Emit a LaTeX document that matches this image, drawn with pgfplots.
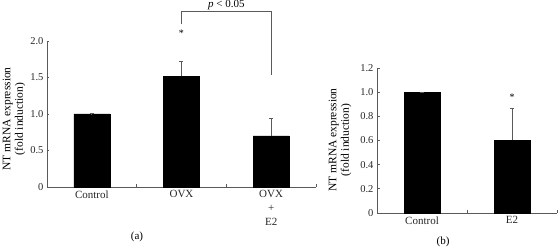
\documentclass[border=0pt]{standalone}
\usepackage{pgfplots}
\pgfplotsset{compat=1.18}
\usepackage{fontspec}
\setmainfont{Liberation Serif}
\definecolor{axgray}{RGB}{90,90,90}
\begin{document}
\begin{tikzpicture}
\pgfplotsset{
  common/.style={
    scale only axis,
    axis x line*=bottom, axis y line*=left,
    axis line style={axgray, line width=0.9pt, -},
    tick style={axgray, line width=0.7pt},
    tick align=inside,
    major tick length=2.5pt, minor tick length=3pt,
    /pgf/number format/assume math mode=true,
    ticklabel style={font=\fontsize{10.5}{12}\selectfont, text=black!85},
    ymin=0, clip=false,
    xtick={0,1,2}, major x tick style={draw=none},
    bar width=36pt,
  }
}
% ---------- (a)
\begin{axis}[common, at={(47pt,64pt)}, anchor=south west,
  width=269pt, height=146pt,
  xmin=-0.5, xmax=2.5, ymax=2.0,
  ytick={0,0.5,1,1.5,2}, yticklabels={0,0.5,1.0,1.5,2.0},
  xticklabels={Control,OVX,{OVX\\+\\E2}},
  xticklabel style={align=center, font=\fontsize{11}{14}\selectfont},
  minor xtick={0.5,1.5,2.5},
]
\addplot[ybar, bar shift=0pt, fill=black, draw=black,
  error bars/.cd, y dir=plus, y explicit,
  error bar style={axgray, line width=0.8pt}, error mark options={rotate=90, mark size=2pt, axgray}]
  coordinates {(0,1.0) +- (0,0.005) (1,1.52) +- (0,0.20) (2,0.70) +- (0,0.24)};
\node[font=\fontsize{10}{12}\selectfont] at (axis cs:1,2.1) {*};
\draw[axgray, line width=0.8pt] (axis cs:1,2.23) -- (axis cs:1,2.40) -- (axis cs:2,2.40) -- (axis cs:2,1.53);
\node[anchor=south, font=\fontsize{11}{12}\selectfont, inner sep=1.5pt] at (axis cs:1.5,2.40) {\textit{p} < 0.05};
\end{axis}
\node[rotate=90, align=center, font=\fontsize{11.5}{12.5}\selectfont] at (14pt,132pt) {NT mRNA expression\\(fold induction)};
\node[font=\fontsize{11}{12}\selectfont] at (137pt,14pt) {(a)};
% ---------- (b)
\begin{axis}[common, at={(377pt,38pt)}, anchor=south west,
  width=180pt, height=145pt,
  xmin=-0.5, xmax=1.5, ymax=1.2,
  ytick={0,0.2,0.4,0.6,0.8,1.0,1.2}, yticklabels={0,0.2,0.4,0.6,0.8,1.0,1.2},
  xticklabels={Control,E2},
  xticklabel style={font=\fontsize{11}{14}\selectfont},
  minor xtick={0.5,1.5},
]
\addplot[ybar, bar shift=0pt, fill=black, draw=black,
  error bars/.cd, y dir=plus, y explicit,
  error bar style={axgray, line width=0.8pt}, error mark options={rotate=90, mark size=2pt, axgray}]
  coordinates {(0,1.0) +- (0,0.003) (1,0.60) +- (0,0.27)};
\node[font=\fontsize{10}{12}\selectfont] at (axis cs:1,0.955) {*};
\end{axis}
\node[rotate=90, align=center, font=\fontsize{11.5}{12.5}\selectfont] at (340pt,111pt) {NT mRNA expression\\(fold induction)};
\node[font=\fontsize{11}{12}\selectfont] at (443pt,9pt) {(b)};
\pgfresetboundingbox
\path[use as bounding box] (0pt,0pt) rectangle (558pt,251pt);
\end{tikzpicture}
\end{document}
